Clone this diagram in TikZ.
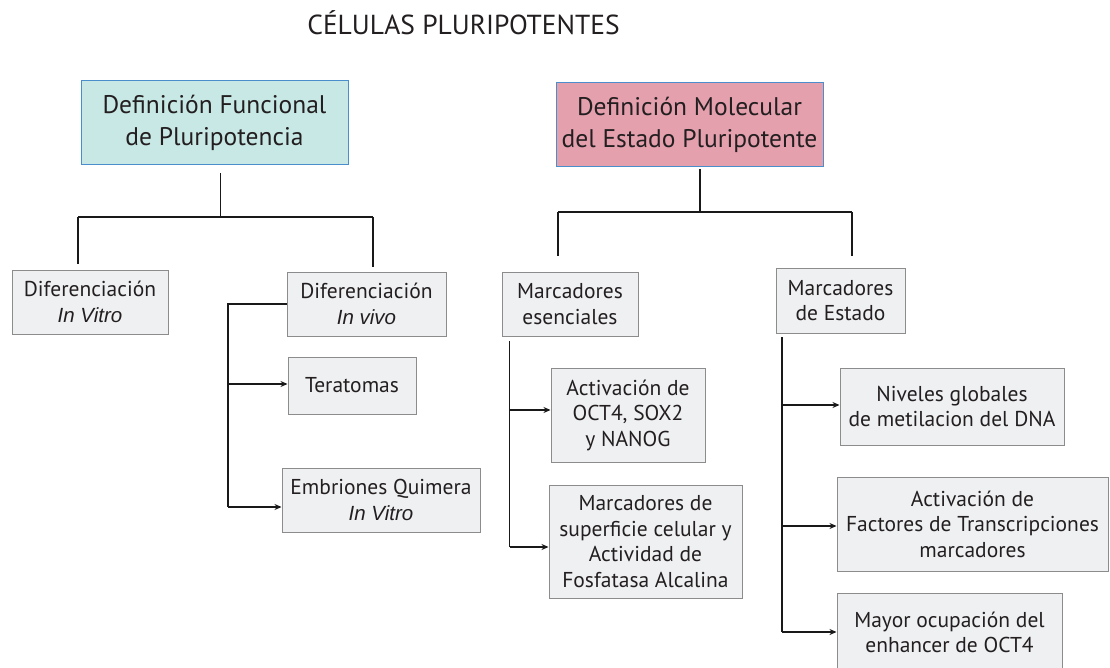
\documentclass[tikz,border=0pt]{standalone}
\usepackage{fontspec}
\setmainfont{PT Sans}
\newfontfamily\itfont{Liberation Sans}
\usetikzlibrary{arrows.meta}
\definecolor{txt}{HTML}{231F20}
\definecolor{tealfill}{HTML}{C8E8E5}
\definecolor{pinkfill}{HTML}{E5A0AE}
\definecolor{blueedge}{HTML}{4A8FCB}
\definecolor{grayfill}{HTML}{EFF0F2}
\definecolor{grayedge}{HTML}{8C8C8C}
\newcommand{\itx}[1]{{\itfont\itshape\fontsize{20.5}{25.5}\selectfont #1}}
\begin{document}
\begin{tikzpicture}[x=1pt,y=-1pt,
  bigbox/.style={draw=blueedge, line width=1pt, text=txt, align=center,
    font=\fontsize{25.5}{32}\selectfont, inner sep=0pt},
  graybox/.style={draw=grayedge, fill=grayfill, line width=1pt, text=txt, align=center,
    font=\fontsize{21.5}{25.5}\selectfont, inner sep=0pt},
  conn/.style={line width=1.2pt, draw=black!90},
  arr/.style={conn, -{Stealth[length=7pt,width=6pt]}}]
\useasboundingbox (0,0) rectangle (1110,668);

\node[font=\fontsize{27.5}{32}\selectfont, text=txt] (title) at (463.5,23) {CÉLULAS PLURIPOTENTES};

\node[bigbox, fill=tealfill, minimum width=267, minimum height=84] (def1) at (214.5,123)
  {Definición Funcional\\de Pluripotencia};
\node[bigbox, fill=pinkfill, minimum width=267, minimum height=84] (def2) at (689.5,125)
  {Definición Molecular\\del Estado Pluripotente};

\node[graybox, minimum width=156, minimum height=64] (invitro) at (90,302)
  {Diferenciación\\\itx{In Vitro}};
\node[graybox, minimum width=159, minimum height=64] (invivo) at (366.5,304)
  {Diferenciación\\\itx{In vivo}};
\node[graybox, minimum width=128, minimum height=57] (terat) at (352,385.5) {Teratomas};
\node[graybox, minimum width=198, minimum height=64] (embr) at (381,500)
  {Embriones Quimera\\\itx{In Vitro}};

\node[graybox, minimum width=136, minimum height=64] (mesen) at (570,304)
  {Marcadores\\esenciales};
\node[graybox, minimum width=154, minimum height=94] (activ) at (628,415)
  {Activación de\\OCT4, SOX2\\y NANOG};
\node[graybox, minimum width=193, minimum height=113] (superf) at (645.5,541.5)
  {Marcadores de\\superficie celular y\\Actividad de\\Fosfatasa Alcalina};

\node[graybox, minimum width=129, minimum height=65] (mest) at (840.5,300.5)
  {Marcadores\\de Estado};
\node[graybox, minimum width=224, minimum height=77] (nivel) at (952,406.5)
  {Niveles globales\\de metilacion del DNA};
\node[graybox, minimum width=271, minimum height=94] (factor) at (972.5,524)
  {Activación de\\Factores de Transcripciones\\marcadores};
\node[graybox, minimum width=225, minimum height=79] (mayor) at (949.5,632.5)
  {Mayor ocupación del\\enhancer de OCT4};

% left tree
\coordinate (j1) at (220.5,217);
\coordinate (jL) at (78,217);
\coordinate (jR) at (373,217);
\draw[conn, shorten <=8pt] (def1.south -| j1) -- (j1);
\draw[conn] (jL) -- (jR);
\draw[conn, shorten >=6pt] (jL) -- (jL |- invitro.north);
\draw[conn, shorten >=5pt] (jR) -- (jR |- invivo.north);

% right tree
\coordinate (j2) at (700,212);
\coordinate (kL) at (558,212);
\coordinate (kR) at (852,212);
\draw[conn, shorten <=2pt] (def2.south -| j2) -- (j2);
\draw[conn] (kL) -- (kR);
\draw[conn, shorten >=15pt] (kL) -- (kL |- mesen.north);
\draw[conn, shorten >=11pt] (kR) -- (kR |- mest.north);

% in vivo bracket
\coordinate (b1) at (228,304);
\coordinate (b2) at (228,384);
\coordinate (b3) at (228,507);
\draw[conn] (invivo.west) -- (b1) -- (b3);
\draw[arr] (b2) -- (b2 -| terat.west);
\draw[arr] (b3) -- (b3 -| embr.west);

% esenciales bracket
\coordinate (m0) at (509.5,341);
\coordinate (m1) at (509.5,410);
\coordinate (m2) at (509.5,547);
\draw[conn] (m0) -- (m2);
\draw[arr] (m1) -- (m1 -| activ.west);
\draw[arr] (m2) -- (m2 -| superf.west);

% estado bracket
\coordinate (n0) at (782,337);
\coordinate (n1) at (782,405);
\coordinate (n2) at (782,526);
\coordinate (n3) at (782,632);
\draw[conn] (n0) -- (n3);
\draw[arr] (n1) -- (n1 -| nivel.west);
\draw[arr] (n2) -- (n2 -| factor.west);
\draw[arr] (n3) -- (n3 -| mayor.west);
\end{tikzpicture}
\end{document}
